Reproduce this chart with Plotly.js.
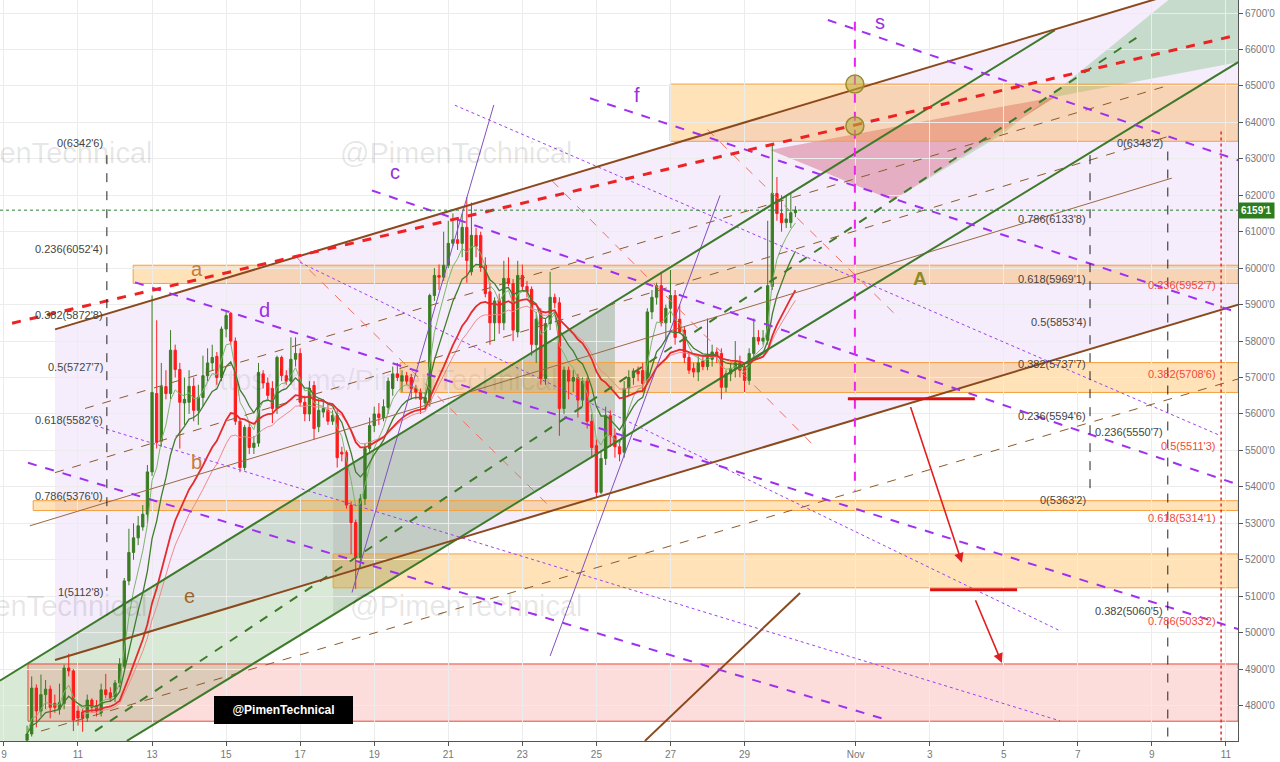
<!DOCTYPE html>
<html><head><meta charset="utf-8">
<script src="https://cdn.plot.ly/plotly-3.0.1.min.js"></script>
<style>html,body{margin:0;padding:0;background:#fff}#chart{width:1280px;height:762px}</style>
</head><body><div id="chart"></div>
<script>
// ---- candle data (3h bars, x = day of October, Nov 1 = 32) ----
const firstBar = 9.625, barStep = 0.125;
const O = [4705,4722,4848,4785,4830,4845,4806,4790,4806,4903,4895,4785,4782,4766,4815,4800,4780,4843,4835,4824,4862,4908,5142,5220,5260,5290,5325,5441,5656,5525,5675,5656,5775,5722,5630,5632,5676,5610,5645,5705,5740,5758,5700,5833,5876,5800,5580,5453,5563,5508,5520,5710,5685,5670,5615,5755,5705,5690,5750,5766,5632,5600,5678,5565,5605,5610,5580,5596,5495,5494,5350,5302,5206,5367,5505,5568,5600,5590,5618,5670,5710,5690,5705,5700,5670,5660,5630,5632,5925,5980,5975,6008,6068,6078,6068,6112,5990,6090,6090,6008,5935,5850,5912,5850,5972,5958,5825,5980,5950,5942,5790,5876,5697,5848,5920,5905,5615,5720,5690,5700,5638,5690,5580,5513,5385,5478,5595,5540,5510,5495,5670,5700,5718,5719,5690,5880,5920,5952,5850,5890,5925,5860,5830,5755,5725,5715,5745,5730,5750,5770,5766,5673,5710,5725,5740,5725,5692,5766,5810,5800,5802,5950,6205,6150,6125,6125,6152];
const H = [4745,4880,4858,4885,4870,4855,4830,4860,4912,4942,4900,4800,4790,4830,4820,4815,4860,4887,4850,4870,4930,5150,5285,5300,5320,5350,5460,5925,5857,5740,5720,5830,5790,5740,5700,5720,5700,5680,5760,5780,5790,5770,5840,5880,5880,5810,5590,5570,5580,5540,5740,5720,5700,5690,5760,5760,5720,5810,5810,5780,5650,5690,5690,5640,5640,5630,5610,5610,5510,5500,5360,5310,5380,5520,5590,5620,5630,5640,5700,5730,5740,5720,5715,5710,5680,5670,5660,5930,6000,6010,6100,6130,6150,6140,6150,6195,6180,6110,6100,6030,5960,5920,5930,6020,6030,5970,6020,6010,5965,5950,5880,5890,5860,5990,5930,5920,5730,5730,5720,5710,5700,5700,5600,5530,5500,5620,5610,5560,5530,5690,5720,5725,5730,5740,5890,5940,5960,5990,5900,5995,5940,5900,5840,5770,5740,5760,5760,5862,5790,5780,5780,5720,5740,5800,5760,5740,5780,5862,5830,5830,6130,6343,6250,6200,6200,6205,6170];
const L = [4700,4715,4740,4770,4790,4765,4780,4775,4790,4880,4730,4745,4728,4755,4780,4770,4770,4820,4810,4810,4850,4900,5130,5200,5240,5280,5300,5430,5505,5510,5640,5640,5700,5505,5570,5600,5580,5570,5620,5690,5720,5680,5690,5810,5790,5570,5440,5445,5490,5490,5510,5670,5640,5575,5600,5690,5680,5680,5730,5620,5580,5580,5530,5550,5590,5570,5570,5453,5470,5340,5215,5120,5180,5350,5490,5550,5570,5580,5600,5650,5690,5660,5680,5640,5640,5600,5610,5620,5910,5940,5965,6000,6060,6050,6030,5960,5980,6030,5990,5920,5790,5800,5820,5830,5950,5800,5810,5940,5920,5760,5740,5680,5680,5830,5890,5540,5600,5640,5660,5590,5620,5560,5480,5370,5380,5460,5510,5480,5470,5480,5650,5680,5690,5660,5680,5860,5900,5840,5800,5850,5790,5820,5740,5710,5700,5690,5720,5720,5730,5740,5640,5660,5690,5700,5700,5660,5680,5750,5790,5790,5790,5940,6130,6100,6110,6110,6140];
const C = [4722,4848,4785,4830,4845,4795,4795,4808,4903,4895,4760,4766,4765,4815,4795,4785,4843,4830,4820,4862,4914,5142,5220,5260,5293,5325,5441,5659,5522,5675,5656,5775,5722,5632,5640,5676,5610,5645,5705,5740,5755,5700,5833,5870,5800,5580,5453,5563,5508,5520,5714,5685,5651,5615,5755,5705,5690,5750,5766,5632,5600,5670,5560,5610,5615,5580,5596,5480,5490,5350,5302,5206,5367,5505,5568,5600,5590,5620,5690,5710,5700,5705,5690,5670,5660,5640,5645,5925,5980,5975,6008,6068,6078,6068,6112,6021,6090,6060,6002,5930,5850,5910,5850,5972,5958,5830,5980,5950,5935,5791,5860,5697,5848,5920,5905,5615,5720,5690,5700,5638,5690,5580,5508,5385,5478,5595,5540,5510,5490,5670,5700,5718,5710,5683,5880,5920,5952,5850,5890,5925,5810,5825,5755,5720,5715,5740,5730,5755,5770,5760,5673,5710,5725,5740,5720,5692,5766,5810,5800,5808,5952,6205,6150,6125,6135,6152,6159];
const lastPrice = 6159.1;

// ---- axis ----
const priceTicks = [4700,4800,4900,5000,5100,5200,5300,5400,5500,5600,5700,5800,5900,6000,6100,6200,6300,6400,6500,6600,6700];
const dayTicks = [9,11,13,15,17,19,21,23,25,27,29,32,34,36,38,40,42];
const dayTickText = ["9","11","13","15","17","19","21","23","25","27","29","Nov","3","5","7","9","11"];

// ---- drawings (day, price) ----
const lavChannelUpper = [10.38,5832,42.33,6806];
const lavChannelLower = [10.38,4925,42.33,5900];
const greenUpper = [8.89,4868,37.38,6653];
const greenLower = [12.32,4703,42.33,6565];
const greenFillEnd = 25.50;
const grayZone = [17.89,25.50,5115,5911];
const orangeBands = [[12.49,42.33,5958,6008],[19.70,42.33,5659,5741],[9.79,42.33,5335,5362],[17.89,42.33,5123,5216],[26.99,42.33,6348,6505]];
const pinkBand = [9.65,42.33,4757,4914];
const brownSolid = [[10.38,5832,42.33,6806],[10.38,4925,42.33,5900],[26.31,4703,30.50,5109]];
const brownThin = [[9.70,5293,40.54,6247]];
const brownDashed = [[10.00,4730,42.33,5696],[11.19,5615,40.40,6500],[10.38,5439,40.40,6360]];
const redDashed = [[9.22,5849,42.33,6640]];
const purpleDashed = [[18.94,6213,42.33,5406],[12.54,5961,42.33,5010],[9.65,5466,32.93,4758],[24.83,6466,42.33,5878],[31.25,6681,42.33,6296]];
const purpleDotted = [[11.46,5568,37.52,4758],[16.99,6016,37.52,5005],[21.18,6447,41.84,5541]];
const purpleThin = [[18.40,5110,22.23,6448],[23.75,4936,28.34,6200]];
const salmonDashed = [[16.90,6030,23.80,5340],[23.80,6240,30.90,5510],[28.00,6380,33.20,5860]];
const greenDashed = [[11.46,4730,39.70,6640]];
const blackVertical = [[11.78,6310,5115],[38.33,6310,5376],[40.43,6320,4703]];
const redVertical = [[41.87,6375,4703]];
const magentaVertical = [[31.98,6676,5390]];
const circles = [[31.98,6505],[31.98,6390]];
const redTargets = [[31.79,35.22,5642],[34.01,36.36,5118]];
const redArrows = [[33.47,5623,34.87,5192],[35.22,5093,35.95,4917]];
const triRed = [[29.69,6324],[37.40,6470],[33.00,6186]];
const triGreen = [[33.00,6186],[37.40,6470],[42.33,6565],[42.33,6740],[40.50,6740],[36.00,6370]];

const fibLeft = [[6342.6,"0(6342'6)"],[6052.4,"0.236(6052'4)"],[5872.8,"0.382(5872'8)"],[5727.7,"0.5(5727'7)"],[5582.6,"0.618(5582'6)"],[5376.0,"0.786(5376'0)"],[5112.8,"1(5112'8)"]];
const fibRightA = [[6133.8,"0.786(6133'8)"],[5969.1,"0.618(5969'1)"],[5853.4,"0.5(5853'4)"],[5737.7,"0.382(5737'7)"],[5594.6,"0.236(5594'6)"],[5363.2,"0(5363'2)"]];
const fibRightB = [[6343.2,"0(6343'2)"],[5550.7,"0.236(5550'7)"],[5060.5,"0.382(5060'5)"]];
const fibRed = [[5952.7,"0.236(5952'7)"],[5708.6,"0.382(5708'6)"],[5511.3,"0.5(5511'3)"],[5314.1,"0.618(5314'1)"],[5033.2,"0.786(5033'2)"]];
const letters = [["a",14.21,5999,"#c87a3a"],["b",14.21,5469,"#c87a3a"],["e",14.02,5101,"#a0662a"],["c",19.56,6263,"#9b30e0"],["d",16.05,5884,"#9b30e0"],["f",26.10,6475,"#9b30e0"],["s",32.66,6675,"#9b30e0"]];

// ---- build ----
const X = O.map((_, i) => firstBar + i * barStep);
function ema(arr, n) { const k = 2 / (n + 1); let e = arr[0]; return arr.map((v, i) => (i === 0 ? e : (e = v * k + e * (1 - k)))); }

const traces = [];
const maDefs = [[5,'#7cb66a',1,0],[10,'#3f7d2c',1.3,0],[26,'#f08a8a',1,12],[21,'#e52b2b',1.8,12]];
maDefs.forEach(([n,col,w,start]) => {
  const e = ema(C, n);
  traces.push({type:'scatter',mode:'lines',x:X.slice(start),y:e.slice(start),line:{color:col,width:w},hoverinfo:'skip',showlegend:false});
});
traces.push({type:'candlestick',x:X,open:O,high:H,low:L,close:C,
  increasing:{line:{color:'#3a7d22',width:1},fillcolor:'#3a7d22'},
  decreasing:{line:{color:'#ff1c1c',width:1},fillcolor:'#ff1c1c'},
  whiskerwidth:0,showlegend:false,hoverinfo:'skip'});

const shapes = [];
function seg(a, color, width, dash, layer) { shapes.push({type:'line',xref:'x',yref:'y',x0:a[0],y0:a[1],x1:a[2],y1:a[3],line:{color,width,dash:dash||'solid'},layer:layer||'above'}); }
function poly(pts, fill) { shapes.push({type:'path',xref:'x',yref:'y',path:'M'+pts.map(p=>p[0]+','+p[1]).join('L')+'Z',fillcolor:fill,line:{width:0},layer:'below'}); }
function lineAt(a, x) { return a[1] + (a[3]-a[1]) * (x - a[0]) / (a[2]-a[0]); }

// fills
poly([[lavChannelUpper[0],lavChannelUpper[1]],[lavChannelUpper[2],lavChannelUpper[3]],[lavChannelLower[2],lavChannelLower[3]],[lavChannelLower[0],lavChannelLower[1]]],'rgba(160,70,230,0.10)');
poly([[8.89,lineAt(greenUpper,8.89)],[greenFillEnd,lineAt(greenUpper,greenFillEnd)],[greenFillEnd,lineAt(greenLower,greenFillEnd)],[12.32,4703],[8.89,4703]],'rgba(76,160,70,0.22)');
poly([[grayZone[0],lineAt(greenUpper,grayZone[0])],[grayZone[1],grayZone[3]],[grayZone[1],lineAt(greenLower,grayZone[1])],[grayZone[0],lineAt(greenLower,grayZone[0])]],'rgba(110,110,110,0.14)');
poly(triGreen,'rgba(76,175,80,0.28)');
poly(triRed,'rgba(200,60,90,0.35)');
orangeBands.forEach(b => shapes.push({type:'rect',xref:'x',yref:'y',x0:b[0],x1:b[1],y0:b[2],y1:b[3],fillcolor:'rgba(255,152,0,0.28)',line:{color:'#f5a040',width:1},layer:'below'}));
shapes.push({type:'rect',xref:'x',yref:'y',x0:pinkBand[0],x1:pinkBand[1],y0:pinkBand[2],y1:pinkBand[3],fillcolor:'rgba(244,67,54,0.18)',line:{color:'#e84a3a',width:1},layer:'below'});

// lines
brownDashed.forEach(a => seg(a,'#8d5a2b',1,'dash'));
brownThin.forEach(a => seg(a,'#9a6a40',1));
purpleDotted.forEach(a => seg(a,'#a040f0',1,'dot'));
salmonDashed.forEach(a => seg(a,'#f07060',1,'dash'));
purpleThin.forEach(a => seg(a,'#8050c0',1));
greenDashed.forEach(a => seg(a,'#3d7a2a',2,'dash'));
seg(greenUpper,'#3d7a2a',2); seg(greenLower,'#3d7a2a',2);
brownSolid.forEach(a => seg(a,'#8b4a1e',2));
purpleDashed.forEach(a => seg(a,'#a030f0',2,'dash'));
redDashed.forEach(a => seg(a,'#ee2222',3,'dash'));
blackVertical.forEach(v => seg([v[0],v[1],v[0],v[2]],'#222',1,'dash'));
redVertical.forEach(v => seg([v[0],v[1],v[0],v[2]],'#e03030',1.5,'dot'));
magentaVertical.forEach(v => seg([v[0],v[1],v[0],v[2]],'#ee22ee',2,'dash'));
redTargets.forEach(r => seg([r[0],r[2],r[1],r[2]],'#e01010',3));
shapes.push({type:'line',xref:'paper',yref:'y',x0:0,x1:1,y0:lastPrice,y1:lastPrice,line:{color:'#2e7d32',width:1,dash:'dot'},layer:'above'});
circles.forEach(c => shapes.push({type:'circle',xref:'x',yref:'y',xsizemode:'pixel',ysizemode:'pixel',xanchor:c[0],yanchor:c[1],x0:-9,x1:9,y0:-9,y1:9,fillcolor:'rgba(190,170,60,0.6)',line:{color:'#9a8a30',width:1.5},layer:'above'}));

// annotations
const ann = [];
const lblFont = {family:'Liberation Sans, Arial',size:11,color:'#444'};
fibLeft.forEach(f => ann.push({x:11.73,y:f[0],xref:'x',yref:'y',text:f[1],showarrow:false,xanchor:'right',yanchor:'middle',font:lblFont}));
fibRightA.forEach(f => ann.push({x:38.27,y:f[0],xref:'x',yref:'y',text:f[1],showarrow:false,xanchor:'right',yanchor:'middle',font:lblFont}));
fibRightB.forEach(f => ann.push({x:40.35,y:f[0],xref:'x',yref:'y',text:f[1],showarrow:false,xanchor:'right',yanchor:'middle',font:lblFont}));
fibRed.forEach(f => ann.push({x:41.78,y:f[0],xref:'x',yref:'y',text:f[1],showarrow:false,xanchor:'right',yanchor:'middle',font:{family:'Liberation Sans, Arial',size:11,color:'#f04a3a'}}));
letters.forEach(l => ann.push({x:l[1],y:l[2],xref:'x',yref:'y',text:l[0],showarrow:false,xanchor:'center',yanchor:'middle',font:{family:'Liberation Sans, Arial',size:20,color:l[3]}}));
ann.push({x:33.74,y:5972,xref:'x',yref:'y',text:'<b>A</b>',showarrow:false,xanchor:'center',yanchor:'middle',font:{family:'Liberation Sans, Arial',size:19,color:'#8a8a2a'}});
redArrows.forEach(a => ann.push({x:a[2],y:a[3],ax:a[0],ay:a[1],xref:'x',yref:'y',axref:'x',ayref:'y',text:'',showarrow:true,arrowhead:2,arrowsize:1.2,arrowwidth:1.6,arrowcolor:'#e02020'}));
const wm = {family:'Liberation Sans, Arial',size:29,color:'rgba(0,0,0,0.11)'};
ann.push({xref:'paper',yref:'paper',x:0.1252,y:0.7935,xanchor:'right',yanchor:'middle',text:'@PimenTechnical',showarrow:false,font:wm});
ann.push({xref:'paper',yref:'paper',x:0.3687,y:0.7935,xanchor:'center',yanchor:'middle',text:'@PimenTechnical',showarrow:false,font:wm});
ann.push({xref:'paper',yref:'paper',x:0.1212,y:0.1822,xanchor:'right',yanchor:'middle',text:'@PimenTechnical',showarrow:false,font:wm});
ann.push({xref:'paper',yref:'paper',x:0.377,y:0.1822,xanchor:'center',yanchor:'middle',text:'@PimenTechnical',showarrow:false,font:wm});
ann.push({xref:'paper',yref:'paper',x:0.307,y:0.4872,xanchor:'center',yanchor:'middle',text:'https://t.me/PimenTechnical',showarrow:false,font:{family:'Liberation Sans, Arial',size:29,color:'rgba(0,0,0,0.08)'}});
ann.push({xref:'x',yref:'y',x:16.54,y:4788,xanchor:'center',yanchor:'middle',text:'<b>@PimenTechnical</b>',showarrow:false,bgcolor:'#000',bordercolor:'#000',borderpad:6,font:{family:'Liberation Sans, Arial',size:12,color:'#fff'},width:125});
ann.push({xref:'paper',yref:'y',x:1,y:lastPrice,xanchor:'left',yanchor:'middle',text:"<b>6159'1</b>",showarrow:false,bgcolor:'#2d7d1e',borderpad:2,font:{family:'Liberation Sans, Arial',size:10,color:'#fff'}});

const layout = {
  width:1280,height:762,margin:{l:0,r:42,t:0,b:21},
  paper_bgcolor:'#fff',plot_bgcolor:'#fff',showlegend:false,dragmode:false,
  xaxis:{type:'linear',range:[8.894,42.326],tickvals:dayTicks,ticktext:dayTickText,showgrid:true,gridcolor:'#ececec',
    zeroline:false,showline:true,linecolor:'#555',ticks:'outside',ticklen:4,tickcolor:'#555',
    tickfont:{family:'Liberation Sans, Arial',size:10,color:'#777'},rangeslider:{visible:false},fixedrange:true},
  yaxis:{side:'right',range:[4702.7,6735.7],tickvals:priceTicks,ticktext:priceTicks.map(v=>v+"'0"),showgrid:true,gridcolor:'#ececec',
    zeroline:false,showline:true,linecolor:'#555',ticks:'outside',ticklen:4,tickcolor:'#555',
    tickfont:{family:'Liberation Sans, Arial',size:10,color:'#777'},fixedrange:true},
  shapes, annotations:ann
};
Plotly.newPlot('chart', traces, layout, {staticPlot:true,displayModeBar:false});
</script></body></html>
